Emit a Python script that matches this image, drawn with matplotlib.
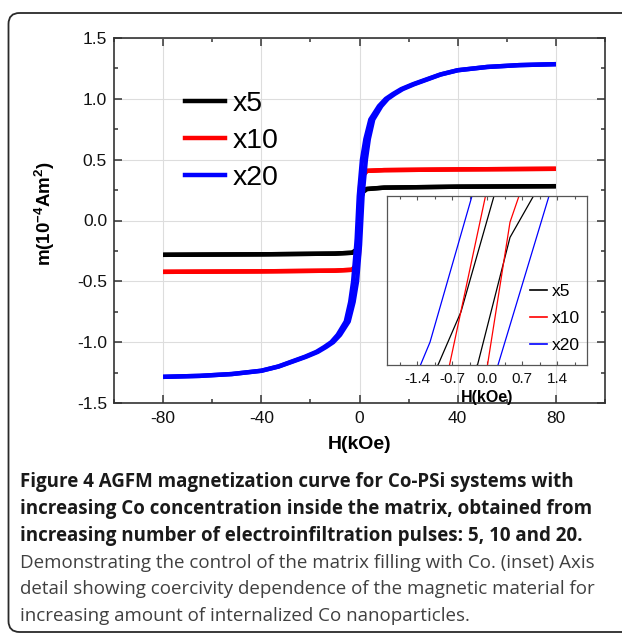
import matplotlib
matplotlib.use("Agg")
import matplotlib.pyplot as plt
from matplotlib.patches import FancyBboxPatch
from matplotlib.ticker import MultipleLocator, FormatStrFormatter

plt.rcParams['font.family'] = ['Liberation Sans', 'DejaVu Sans']
plt.rcParams['axes.unicode_minus'] = False
plt.rcParams['mathtext.fontset'] = 'custom'
plt.rcParams['mathtext.rm'] = 'Liberation Sans'
plt.rcParams['mathtext.bf'] = 'Liberation Sans:bold'
plt.rcParams['mathtext.default'] = 'bf'

# hysteresis branches, H in kOe, m in 1e-4 Am^2
# x5
h5_down = [80, 40, 10, 3, 1.2, 0.14, -0.52, -0.98, -1.5, -3, -10, -40, -80]
m5_down = [0.282, 0.278, 0.27, 0.26, 0.245, 0.2, -0.074, -0.2, -0.245, -0.265, -0.272, -0.278, -0.282]
h5_up = [-80, -40, -10, -3, -1.0, -0.19, 0.46, 0.93, 1.5, 3, 10, 40, 80]
m5_up = [-0.282, -0.278, -0.272, -0.265, -0.24, -0.2, 0.102, 0.2, 0.235, 0.258, 0.27, 0.278, 0.282]
# x10
h10_down = [80, 40, 10, 3, 1.0, 0.3, -0.03, -0.75, -1.5, -3, -10, -40, -80]
m10_down = [0.425, 0.42, 0.414, 0.408, 0.37, 0.3, 0.2, -0.2, -0.37, -0.405, -0.412, -0.418, -0.422]
h10_up = [-80, -40, -10, -3, -1.0, -0.3, 0.01, 0.46, 0.64, 1.5, 3, 10, 40, 80]
m10_up = [-0.422, -0.418, -0.412, -0.405, -0.37, -0.3, -0.2, 0.138, 0.2, 0.37, 0.408, 0.414, 0.42, 0.425]
# x20
h20_down = [80, 65, 52, 39.9, 32.9, 27.3, 21.75, 17.0, 13.65, 10.7, 7.9, 4.4, 2.4, 1.0, -0.30,
            -1.14, -1.33, -2.6, -3.8, -5.6, -8.9, -11.5, -14.35, -17.6, -22.25, -27.7, -33.1, -40.1, -52, -65, -80]
m20_down = [1.285, 1.277, 1.262, 1.235, 1.2, 1.16, 1.12, 1.08, 1.04, 1.0, 0.94, 0.83, 0.67, 0.5, 0.2,
            -0.146, -0.2, -0.5, -0.67, -0.83, -0.94, -1.0, -1.04, -1.08, -1.12, -1.16, -1.2, -1.235, -1.262, -1.277, -1.285]
h20_up = [-80, -65, -52, -39.9, -32.9, -27.3, -21.75, -17.0, -13.65, -10.7, -7.9, -4.4, -2.4, -1.0, 0.22,
          1.24, 2.6, 3.8, 5.6, 8.9, 11.5, 14.35, 17.6, 22.25, 27.7, 33.1, 40.1, 52, 65, 80]
m20_up = [-1.285, -1.277, -1.262, -1.235, -1.2, -1.16, -1.12, -1.08, -1.04, -1.0, -0.94, -0.83, -0.67, -0.5, -0.2,
          0.2, 0.5, 0.67, 0.83, 0.94, 1.0, 1.04, 1.08, 1.12, 1.16, 1.2, 1.235, 1.262, 1.277, 1.285]

labels = ["x5", "x10", "x20"]
colors = ["black", "#ff0000", "#0000ff"]
branches = [(h5_down, m5_down, h5_up, m5_up),
            (h10_down, m10_down, h10_up, m10_up),
            (h20_down, m20_down, h20_up, m20_up)]

caption_bold = ["Figure 4 AGFM magnetization curve for Co-PSi systems with",
                "increasing Co concentration inside the matrix, obtained from",
                "increasing number of electroinfiltration pulses: 5, 10 and 20."]
caption_reg = ["Demonstrating the control of the matrix filling with Co. (inset) Axis",
               "detail showing coercivity dependence of the magnetic material for",
               "increasing amount of internalized Co nanoparticles."]

W, H = 622, 633
fig = plt.figure(figsize=(W / 100, H / 100), dpi=100)

# background frame, pixel coords
bg = fig.add_axes([0, 0, 1, 1], zorder=-5)
bg.set_xlim(0, W)
bg.set_ylim(H, 0)
bg.axis('off')
bg.add_patch(FancyBboxPatch((8.5, 13), 650, 619, boxstyle="round,pad=0,rounding_size=11",
                            fill=False, edgecolor="#2a2a2a", linewidth=1.3))

# main axes
ax = fig.add_axes([114 / W, 1 - 403 / H, 491 / W, 365 / H])
for (hd, md, hu, mu), c in zip(branches, colors):
    ax.plot(hd, md, color=c, lw=3.2, solid_capstyle='butt', solid_joinstyle='round')
    ax.plot(hu, mu, color=c, lw=3.2, solid_capstyle='butt', solid_joinstyle='round')
leg_handles = [plt.Line2D([], [], color=c, lw=3.2) for c in colors]
ax.legend(leg_handles, labels, loc='upper left', bbox_to_anchor=(0.115, 0.893), frameon=False,
          fontsize=20.5, handlelength=1.4, handletextpad=0.3, labelspacing=0.375, borderpad=0)

ax.set_xlim(-100, 100)
ax.set_ylim(-1.5, 1.5)
ax.xaxis.set_major_locator(MultipleLocator(40))
ax.xaxis.set_minor_locator(MultipleLocator(20))
ax.yaxis.set_major_locator(MultipleLocator(0.5))
ax.yaxis.set_minor_locator(MultipleLocator(0.25))
ax.yaxis.set_major_formatter(FormatStrFormatter('%.1f'))
ax.grid(True, which='major', color='#dddddd', lw=0.8, zorder=0)
ax.set_axisbelow(True)
ax.tick_params(which='both', direction='in', top=True, right=True, colors='#333333',
               labelcolor='#111111', labelsize=12.5)
ax.tick_params(which='major', length=6, width=1.1)
ax.tick_params(which='minor', length=3, width=1.1)
ax.tick_params(axis='x', pad=6)
ax.tick_params(axis='y', pad=5)
for s in ax.spines.values():
    s.set_color('#333333')
    s.set_linewidth(1.2)
ax.set_xlabel("H(kOe)", fontsize=14, fontweight='bold', labelpad=7)
ax.set_ylabel(r"m(10$^{-4}$Am$^{2}$)", fontsize=13.5, fontweight='bold')
ax.yaxis.set_label_coords(-0.116, 0.52)

# inset
ins = fig.add_axes([387 / W, 1 - 365 / H, 200 / W, 169 / H], facecolor='none')
for (hd, md, hu, mu), c in zip(branches, colors):
    ins.plot(hd, md, color=c, lw=0.9)
    ins.plot(hu, mu, color=c, lw=0.9)
ins.set_xlim(-2, 2)
ins.set_ylim(-0.2, 0.2)
ins.xaxis.set_major_locator(MultipleLocator(0.7))
ins.xaxis.set_minor_locator(MultipleLocator(0.35))
ins.xaxis.set_major_formatter(FormatStrFormatter('%.1f'))
ins.set_yticks([])
ins.tick_params(which='both', direction='in', top=True, colors='#555555', labelcolor='#111111', labelsize=11, pad=5)
ins.tick_params(which='major', length=3, width=0.8)
ins.tick_params(which='minor', length=2, width=0.8)
for s in ins.spines.values():
    s.set_color('#555555')
    s.set_linewidth(0.9)
ins.set_xlabel("H(kOe)", fontsize=11.5, fontweight='bold', labelpad=3)
ins_handles = [plt.Line2D([], [], color=c, lw=1.2) for c in colors]
ins.legend(ins_handles, labels, loc='upper left', bbox_to_anchor=(0.67, 0.53), frameon=False,
           fontsize=12.5, handlelength=1.0, handletextpad=0.3, labelspacing=0.68, borderpad=0)

# caption
ys = [482, 509, 536]
for t, y in zip(caption_bold, ys):
    fig.text(20 / W, 1 - y / H, t, fontsize=13.5, fontweight='bold', family='Open Sans',
             color='#1a1a1a', ha='left', va='center')
ys = [563, 589, 616]
for t, y in zip(caption_reg, ys):
    fig.text(20 / W, 1 - y / H, t, fontsize=13.5, family='Open Sans',
             color='#404040', ha='left', va='center')

fig.savefig("out.png", dpi=100)
